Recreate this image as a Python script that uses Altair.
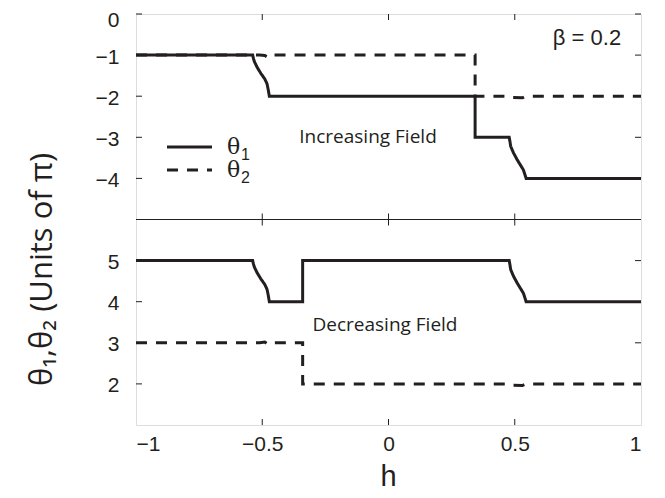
import altair as alt
import pandas as pd

# ---- data ----
# Increasing field (upper panel)
inc_h1 = [-1, -0.538, -0.535, -0.531, -0.52, -0.505, -0.49, -0.481, -0.476, -0.472,
          0.343, 0.343, 0.478, 0.481, 0.484, 0.495, 0.51, 0.525, 0.534, 0.540, 0.545, 1]
inc_t1 = [-1, -1, -1.08, -1.16, -1.3, -1.45, -1.58, -1.7, -1.85, -2,
          -2, -3, -3, -3.1, -3.22, -3.38, -3.55, -3.7, -3.79, -3.9, -4, -4]
inc_h2 = [-1, -0.51, -0.49, -0.478, -0.472, 0.343, 0.343, 0.478, 0.49, 0.53, 0.545, 1]
inc_t2 = [-1, -1, -1.01, -1.05, -1.0, -1, -2, -2, -2.03, -2.04, -2, -2]

# Decreasing field (lower panel)
dec_h1 = [-1, -0.538, -0.535, -0.531, -0.52, -0.505, -0.49, -0.481, -0.476, -0.472,
          -0.340, -0.340, 0.478, 0.481, 0.484, 0.495, 0.51, 0.525, 0.534, 0.540, 0.545, 1]
dec_t1 = [5, 5, 4.92, 4.84, 4.7, 4.55, 4.42, 4.3, 4.15, 4,
          4, 5, 5, 4.9, 4.78, 4.62, 4.45, 4.3, 4.21, 4.1, 4, 4]
dec_h2 = [-1, -0.51, -0.49, -0.478, -0.472, -0.340, -0.340, 0.478, 0.49, 0.53, 0.545, 1]
dec_t2 = [3, 3, 3.02, 2.97, 3.0, 3, 2, 2, 1.97, 1.96, 2, 2]

series_names = ["θ₁", "θ₂"]
legend_glyph = ["θ", "θ"]
legend_sub = ["1", "2"]
x_ticks = [-1, -0.5, 0, 0.5, 1]
top_ticks = [0, -1, -2, -3, -4]
bottom_ticks = [5, 4, 3, 2]
annotations = ["Increasing Field", "Decreasing Field", "β = 0.2"]

# ---- build tables ----
rows = []
for panel, ser, hs, ts in [("inc", "θ₁", inc_h1, inc_t1), ("inc", "θ₂", inc_h2, inc_t2),
                           ("dec", "θ₁", dec_h1, dec_t1), ("dec", "θ₂", dec_h2, dec_t2)]:
    for i, (h, t) in enumerate(zip(hs, ts)):
        rows.append({"h": h, "theta": t, "series": ser, "panel": panel, "idx": i,
                     "grp": panel + ser})
df = pd.DataFrame(rows)

# lower panel shares one axis with the upper: value v is drawn at v - 11
SHIFT = 11
y_tick_pos = top_ticks + [v - SHIFT for v in bottom_ticks]

W, H = 505, 411
INK = "#231f20"
DASH = [11, 9]

xscale = alt.Scale(domain=[-1, 1], nice=False, zero=False)
yscale = alt.Scale(domain=[-10, 0], nice=False, zero=False)

x_axis = alt.Axis(values=x_ticks, format="~g", ticks=False, domain=False, grid=False,
                  labelFont="Liberation Sans", labelFontSize=21, labelPadding=8,
                  labelColor=INK, title="h", titleFont="Liberation Sans", titleFontSize=29,
                  titleFontWeight="normal", titleColor=INK, titleX=252, titleY=60,
                  titleBaseline="alphabetic")
y_axis = alt.Axis(values=y_tick_pos, ticks=False, domain=False, grid=False,
                  labelExpr=f"datum.value > -5 ? format(datum.value, '~g') : format(datum.value + {SHIFT}, '~g')",
                  labelFont="Liberation Sans", labelFontSize=21, labelPadding=17,
                  labelOffset={"condition": {"test": "datum.value == 0", "value": -5}, "value": 2},
                  labelBaseline={"condition": {"test": "datum.value == 0", "value": "top"},
                                 "value": "middle"},
                  labelColor=INK, title="θ₁,θ₂    (Units of π)", titleFont="Open Sans",
                  titleFontSize=31, titleFontWeight="normal", titleColor=INK,
                  titleX=-94, titleY=255, titleBaseline="middle", titleAngle=-90)

lines = alt.Chart(df).transform_calculate(
    y=f"datum.panel == 'inc' ? datum.theta : datum.theta - {SHIFT}"
).mark_line(strokeWidth=3, color=INK, strokeCap="butt", strokeJoin="miter").encode(
    x=alt.X("h:Q", scale=xscale, axis=x_axis),
    y=alt.Y("y:Q", scale=yscale, axis=y_axis),
    strokeDash=alt.StrokeDash("series:N",
                              scale=alt.Scale(domain=series_names, range=[[1, 0], DASH]),
                              legend=None),
    detail="grp:N",
    order="idx:Q",
)

# divider between the two panels
divider = alt.Chart(pd.DataFrame({"y": [-5]})).mark_rule(color=INK, strokeWidth=1).encode(
    y=alt.Y("y:Q", scale=yscale)
)

# inward ticks
yt = pd.DataFrame({"y": y_tick_pos})
left_ticks = alt.Chart(yt).mark_rule(color=INK, strokeWidth=1).encode(
    y=alt.Y("y:Q", scale=yscale), x=alt.value(0), x2=alt.value(6))
right_ticks = alt.Chart(yt).mark_rule(color=INK, strokeWidth=1).encode(
    y=alt.Y("y:Q", scale=yscale), x=alt.value(W - 6), x2=alt.value(W))
xt = pd.DataFrame({"h": [v for v in x_ticks if abs(v) < 1]})
def xtick(y0, y1):
    return alt.Chart(xt).mark_rule(color=INK, strokeWidth=1).encode(
        x=alt.X("h:Q", scale=xscale), y=alt.value(y0), y2=alt.value(y1))
mid = H / 2
tick_layers = [xtick(0, 6), xtick(H - 6, H), xtick(mid - 6, mid), xtick(mid, mid + 6)]

# hand-made legend (key lines + θ with subscript)
leg = pd.DataFrame({"s": series_names, "g": legend_glyph, "n": legend_sub})
LEG_X0, LEG_X1, LEG_Y = 31, 76, [133, 156]
leg_layers = []
for i in range(2):
    row = leg.iloc[[i]]
    leg_layers.append(alt.Chart(row).mark_rule(
        color=INK, strokeWidth=3, strokeDash=([1, 0] if i == 0 else DASH), strokeCap="butt"
    ).encode(x=alt.value(LEG_X0), x2=alt.value(LEG_X1), y=alt.value(LEG_Y[i])))
    leg_layers.append(alt.Chart(row).mark_text(
        font="DejaVu Serif", fontSize=22, color=INK, align="left", baseline="middle"
    ).encode(text="g:N", x=alt.value(91), y=alt.value(LEG_Y[i])))
    leg_layers.append(alt.Chart(row).mark_text(
        font="Liberation Sans", fontSize=16, color=INK, align="left", baseline="middle"
    ).encode(text="n:N", x=alt.value(105), y=alt.value(LEG_Y[i] + 8)))

ann = pd.DataFrame({"t": annotations})
def note(i, x, y, size, font):
    return alt.Chart(ann.iloc[[i]]).mark_text(
        font=font, fontSize=size, color=INK, align="center", baseline="middle"
    ).encode(text="t:N", x=alt.value(x), y=alt.value(y))

notes = [note(0, 232, 123, 19, "Open Sans"),
         note(1, 249, 311, 19, "Open Sans"),
         note(2, 451, 24, 22, "Liberation Sans")]

chart = alt.layer(divider, *tick_layers, left_ticks, right_ticks, lines,
                  *leg_layers, *notes).properties(
    width=W, height=H,
    autosize=alt.AutoSizeParams(type="none"),
    padding={"left": 128, "top": 6, "right": 16, "bottom": 65},
).configure_view(stroke=INK, strokeWidth=1).configure(background="white")

chart.save("out.html", embed_options={"renderer": "svg", "actions": False})
